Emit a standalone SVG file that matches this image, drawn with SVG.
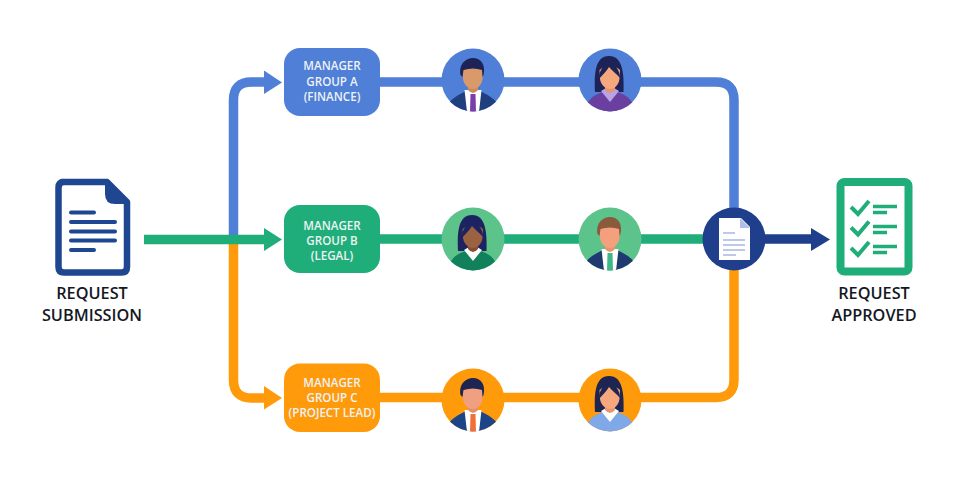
<svg xmlns="http://www.w3.org/2000/svg" width="960" height="480" viewBox="0 0 960 480">
  <style>
    text { font-family: "Open Sans", "Liberation Sans", sans-serif; text-anchor: middle; }
    .caption { font-size: 16.300px; font-weight: 600; fill: #14181f; }
    .boxlabel { font-size: 11.600px; font-weight: 600; fill: #eef2f5; }
    .wire { fill: none; stroke-width: 9.500; stroke-linejoin: round; }
    .blue { stroke: #4f7fd6; } .green { stroke: #1fae79; } .orange { stroke: #ff9a0b; } .navy { stroke: #1f3f8c; }
    .rule { stroke-width: 4; stroke-linecap: round; stroke: #1f4690; fill: none; }
    .tick { stroke-width: 4; stroke: #1fae79; fill: none; }
    .bar { stroke-width: 3.500; stroke: #1fae79; fill: none; }
    .sheet { stroke-width: 1.600; stroke: #a9b7e6; fill: none; }
  </style>
  <defs>
    <clipPath id="disc"><circle r="31.500"/></clipPath>
    <!-- shared portrait shapes, centred on the disc -->
    <path id="coat" d="M-27 32 C-26 21 -19 17 -7 11 L7 11 C19 17 26 21 27 32 Z"/>
    <path id="shirt" d="M-8.500 10 L8.500 10 L6 32 L-6 32 Z"/>
    <path id="neck" d="M-5 2 H5 V10 Q0 16 -5 10 Z"/>
    <path id="face" d="M-10.500 -10 Q0 -18 10 -10 L9.500 -1 C8.500 6 3.500 9 0 9 C-3.500 9 -9 6 -10 -1 Z"/>
    <path id="shorthair" d="M-12.500 -5 C-14.500 -17 -6 -22 0 -22 C8 -22 13 -15 10.500 -5 L9.500 -3 L9 -10 Q0 -13 -9.500 -10 L-10.500 -3 Z"/>
    <path id="longhair" d="M-15 12 C-16 -6 -15 -24 -1 -24 C13 -24 14 -6 13.500 12 Z"/>
    <path id="fringe" d="M-11 -1 C-11 -10 -6 -16 -1 -16 C5 -16 10 -10 10 -2 C7 -6 2 -9 -1 -13 C-4 -8 -8 -5 -11 -1 Z"/>
    <path id="top" d="M-24 32 C-24 20 -17 15 -7 12 L7 12 C17 15 24 20 24 32 Z"/>
    <path id="collar" d="M-9 11 L0 22 L9 11 L4 8 L0 12 L-4 8 Z"/>
  </defs>
  <rect width="960" height="480" fill="#ffffff"/>

  <g id="connectors">
    <path class="wire blue" d="M233.500 239 V100 Q233.500 82 251.500 82 H268"/>
    <path class="wire orange" d="M233.500 240 V380 Q233.500 398 251.500 398 H268"/>
    <path class="wire blue" d="M380 82 H716 Q734 82 734 100 V239"/>
    <path class="wire orange" d="M380 397.500 H716 Q734 397.500 734 379.500 V239"/>
    <path class="wire green" d="M144 239.500 H268"/>
    <path class="wire green" d="M380 239 H720"/>
    <path class="wire navy" d="M760 239 H814"/>
    <path d="M264 70.500 L282 82.500 L264 94 Z" fill="#4f7fd6"/>
    <path d="M264 228 L282 239.500 L264 251 Z" fill="#1fae79"/>
    <path d="M264 386 L282 398 L264 409.500 Z" fill="#ff9a0b"/>
    <path d="M811 228 L830 239.500 L811 251 Z" fill="#1f3f8c"/>
  </g>

  <g id="request-submission">
    <path d="M62 182 H107 L127 202 V267 Q127 272.500 121.500 272.500 H64 Q58.500 272.500 58.500 267 V187.500 Q58.500 182 64 182 Z" fill="#ffffff" stroke="#1f4690" stroke-width="6.500" stroke-linejoin="round"/>
    <path d="M105 181 L129 204 H115 Q105 204 105 194 Z" fill="#1f4690"/>
    <path class="rule" d="M71 212.500 H94 M71 222 H115 M71 231.500 H115 M71 240.500 H115 M71 250 H94"/>
    <text class="caption" x="92" y="299">REQUEST</text>
    <text class="caption" x="92" y="320.500">SUBMISSION</text>
  </g>

  <g id="manager-a">
    <rect x="284" y="48" width="96" height="68" rx="16" fill="#4f7fd6"/>
    <text class="boxlabel" x="332" y="70">MANAGER</text>
    <text class="boxlabel" x="332" y="85.500">GROUP A</text>
    <text class="boxlabel" x="332" y="101">(FINANCE)</text>
  </g>
  <g id="manager-b">
    <rect x="284" y="205" width="96" height="68" rx="16" fill="#1fae79"/>
    <text class="boxlabel" x="332" y="230">MANAGER</text>
    <text class="boxlabel" x="332" y="245">GROUP B</text>
    <text class="boxlabel" x="332" y="260">(LEGAL)</text>
  </g>
  <g id="manager-c">
    <rect x="284" y="363.500" width="96" height="68.500" rx="16" fill="#ff9a0b"/>
    <text class="boxlabel" x="332" y="386.500">MANAGER</text>
    <text class="boxlabel" x="332" y="401.500">GROUP C</text>
    <text class="boxlabel" x="332" y="416.500">(PROJECT LEAD)</text>
  </g>

  <g id="approver-a1" transform="translate(473,80)">
    <circle r="31.500" fill="#4f7fd6"/>
    <g clip-path="url(#disc)">
      <use href="#coat" fill="#1f3f7f"/><use href="#shirt" fill="#ffffff"/>
      <path d="M-2.500 14 H2.500 L3 32 H-3 Z" fill="#7b3fa8"/>
      <use href="#neck" fill="#c98a5c"/><use href="#face" fill="#d9996b"/><use href="#shorthair" fill="#1e2357"/>
    </g>
  </g>
  <g id="approver-a2" transform="translate(610,80)">
    <circle r="31.500" fill="#4f7fd6"/>
    <g clip-path="url(#disc)">
      <use href="#longhair" fill="#1e2357"/><use href="#top" fill="#6a3fa0"/><use href="#collar" fill="#b8a3e4"/>
      <use href="#neck" fill="#e8946c"/><use href="#face" fill="#f5a77e"/><use href="#fringe" fill="#1e2357"/>
    </g>
  </g>
  <g id="approver-b1" transform="translate(473,239)">
    <circle r="31.500" fill="#5cc48a"/>
    <g clip-path="url(#disc)">
      <use href="#longhair" fill="#1d2260"/><use href="#top" fill="#12805a"/><use href="#collar" fill="#ffffff"/>
      <use href="#neck" fill="#85502f"/><use href="#face" fill="#9a6240"/><use href="#fringe" fill="#1d2260"/>
    </g>
  </g>
  <g id="approver-b2" transform="translate(610,239)">
    <circle r="31.500" fill="#5cc48a"/>
    <g clip-path="url(#disc)">
      <use href="#coat" fill="#1f3a70"/><use href="#shirt" fill="#ffffff"/>
      <path d="M-2.500 14 H2.500 L3 32 H-3 Z" fill="#3fb888"/>
      <use href="#neck" fill="#e8946c"/><use href="#face" fill="#f4a07e"/><use href="#shorthair" fill="#8a5a3c"/>
    </g>
  </g>
  <g id="approver-c1" transform="translate(473,400)">
    <circle r="31.500" fill="#ff9a0b"/>
    <g clip-path="url(#disc)">
      <use href="#coat" fill="#1e4488"/><use href="#shirt" fill="#ffffff"/>
      <path d="M-2.500 14 H2.500 L3 32 H-3 Z" fill="#f0703a"/>
      <use href="#neck" fill="#e0906c"/><use href="#face" fill="#f0a080"/><use href="#shorthair" fill="#1e2550"/>
    </g>
  </g>
  <g id="approver-c2" transform="translate(610,400)">
    <circle r="31.500" fill="#ff9a0b"/>
    <g clip-path="url(#disc)">
      <use href="#longhair" fill="#1e2550"/><use href="#top" fill="#7fa8e8"/><use href="#collar" fill="#ffffff"/>
      <use href="#neck" fill="#e8946c"/><use href="#face" fill="#f5a77e"/><use href="#fringe" fill="#1e2550"/>
    </g>
  </g>

  <g id="merge-hub">
    <circle cx="734" cy="239" r="31.500" fill="#1f3f8c"/>
    <path d="M719 218 H741 L750 227 V260 H719 Z" fill="#ffffff"/>
    <path d="M740 218 L750 228 H740 Z" fill="#b3bfe9"/>
    <path class="sheet" d="M723 233 H735 M723 240 H745 M723 245 H745 M723 250 H745 M723 255 H736"/>
  </g>

  <g id="request-approved">
    <rect x="840.500" y="182" width="68" height="89.500" rx="4" fill="#ffffff" stroke="#1fae79" stroke-width="8"/>
    <path class="tick" d="M851 207 L858 214 L869 201 M851 227.500 L858 234.500 L869 221.500 M851 248 L858 255 L869 242"/>
    <path class="bar" d="M873 206.500 H897 M873 212.500 H887 M873 226.500 H897 M873 232.500 H887 M873 246.500 H897 M873 252.500 H887"/>
    <text class="caption" x="874" y="299">REQUEST</text>
    <text class="caption" x="874" y="320.500">APPROVED</text>
  </g>
</svg>
